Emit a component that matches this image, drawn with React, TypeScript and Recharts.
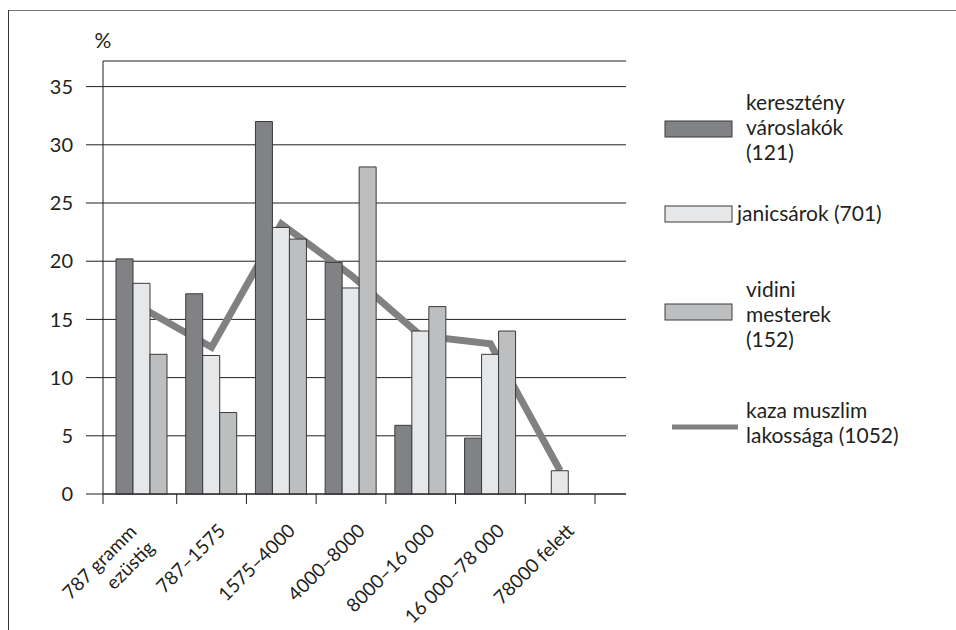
import { ComposedChart, Bar, Line, XAxis, YAxis, CartesianGrid, Legend } from "recharts";

// vagyoni kategóriák (ezüst gramm)
const categories = [
  "787 gramm\nezüstig",
  "787–1575",
  "1575–4000",
  "4000–8000",
  "8000–16 000",
  "16 000–78 000",
  "78000 felett",
];
const keresztenyVaroslakok = [20.2, 17.2, 32, 19.9, 5.9, 4.8, null];
const janicsarok = [18.1, 11.9, 22.9, 17.7, 14, 12, 2];
const vidiniMesterek = [12, 7, 21.9, 28.1, 16.1, 14, null];
const kazaMuszlim = [16, 12.6, 23.2, 18.8, 13.6, 12.9, 2];
const yTicks = [0, 5, 10, 15, 20, 25, 30, 35];

const legendKereszteny = ["keresztény", "városlakók", "(121)"];
const legendJanicsar = ["janicsárok (701)"];
const legendVidini = ["vidini", "mesterek", "(152)"];
const legendKaza = ["kaza muszlim", "lakossága (1052)"];

const data = categories.map((name, i) => ({
  name,
  kereszteny: keresztenyVaroslakok[i],
  janicsar: janicsarok[i],
  vidini: vidiniMesterek[i],
  kaza: kazaMuszlim[i],
}));

const INK = "#231f20";
const DARK = "#808285";
const LIGHT = "#e6e7e8";
const MID = "#bcbec0";
const LINE = "#818181";
const BAR_STROKE = "#3a3a3a";
const FONT = "Lato, 'Noto Sans', sans-serif";
const FS = 21;
const PAD_LEFT = 4;

const XTick = (props: any) => {
  const { x, y, payload, index } = props;
  const half = payload?.offset ?? 34.85;
  const lines = String(payload.value).split("\n");
  const pos =
    lines.length === 1
      ? [[x + 15, y + 38]]
      : [
          [x - 4, y + 39],
          [x + 14, y + 55],
        ];
  return (
    <g>
      {index === 0 && (
        <line x1={x - half - PAD_LEFT} x2={x - half - PAD_LEFT} y1={y} y2={y + 10} stroke={INK} />
      )}
      <line x1={x + half} x2={x + half} y1={y} y2={y + 10} stroke={INK} />
      {lines.map((l, k) => {
        const [tx, ty] = pos[k];
        return (
          <text
            key={k}
            x={tx}
            y={ty}
            textAnchor="end"
            fontSize={19}
            fill={INK}
            fontFamily={FONT}
            transform={`rotate(-45 ${tx} ${ty})`}
          >
            {l}
          </text>
        );
      })}
    </g>
  );
};

const textLines = (lines: string[], x: number, y0: number) =>
  lines.map((l, i) => (
    <text key={i} x={x} y={y0 + i * 25} fontSize={FS} fill={INK} fontFamily={FONT}>
      {l}
    </text>
  ));

const renderLegend = () => (
  <svg width={290} height={380} style={{ overflow: "visible" }}>
    <rect x={5} y={41} width={67} height={16} fill={DARK} stroke={BAR_STROKE} />
    {textLines(legendKereszteny, 86, 30)}
    <rect x={5} y={126} width={67} height={16} fill={LIGHT} stroke={BAR_STROKE} />
    {textLines(legendJanicsar, 77, 141)}
    <rect x={5} y={224} width={67} height={16} fill={MID} stroke={BAR_STROKE} />
    {textLines(legendVidini, 86, 217)}
    <line x1={12} x2={78} y1={347} y2={347} stroke={LINE} strokeWidth={5} />
    {textLines(legendKaza, 86, 338)}
  </svg>
);

export default function App() {
  return (
    <div
      style={{
        position: "absolute",
        left: 0,
        top: 0,
        width: 956,
        height: 630,
        background: "#fff",
        fontFamily: FONT,
        overflow: "hidden",
      }}
    >
      <div style={{ position: "absolute", left: 9, top: 10, right: 0, borderTop: "1.5px solid #7a7a7a" }} />
      <div style={{ position: "absolute", left: 8, top: 10, bottom: 0, borderLeft: "1.5px solid #333" }} />
      <ComposedChart
        width={956}
        height={630}
        data={data}
        margin={{ top: 61, right: 330, bottom: 16, left: 0 }}
        barGap={0}
        barSize={17}
      >
        <CartesianGrid horizontal vertical={false} stroke={INK} strokeOpacity={1} />
        <XAxis
          dataKey="name"
          height={120}
          interval={0}
          tickSize={0}
          tickMargin={0}
          tickLine={false}
          axisLine={{ stroke: INK }}
          padding={{ left: PAD_LEFT, right: 31 }}
          tick={<XTick />}
        />
        <YAxis
          width={103}
          type="number"
          domain={[0, 37.2]}
          ticks={yTicks}
          interval={0}
          tickSize={17}
          tickMargin={13}
          axisLine={{ stroke: INK }}
          tickLine={{ stroke: INK }}
          tick={{ fontSize: 20, fill: INK, fontFamily: FONT }}
          label={{
            content: (p: any) => (
              <text
                x={p.viewBox.x + p.viewBox.width}
                y={p.viewBox.y - 13}
                textAnchor="middle"
                fontSize={FS}
                fill={INK}
                fontFamily={FONT}
              >
                %
              </text>
            ),
          }}
        />
        <Line
          dataKey="kaza"
          name="kaza muszlim lakossága (1052)"
          type="linear"
          stroke={LINE}
          strokeWidth={7}
          dot={false}
          activeDot={false}
          isAnimationActive={false}
          zIndex={200}
        />
        <Bar dataKey="kereszteny" name="keresztény városlakók (121)" fill={DARK} stroke={BAR_STROKE} isAnimationActive={false} />
        <Bar dataKey="janicsar" name="janicsárok (701)" fill={LIGHT} stroke={BAR_STROKE} isAnimationActive={false} />
        <Bar dataKey="vidini" name="vidini mesterek (152)" fill={MID} stroke={BAR_STROKE} isAnimationActive={false} />
        <Legend
          layout="horizontal"
          verticalAlign="middle"
          align="center"
          content={renderLegend}
          wrapperStyle={{ left: 660, top: 80, width: 290, height: 380 }}
        />
      </ComposedChart>
    </div>
  );
}
